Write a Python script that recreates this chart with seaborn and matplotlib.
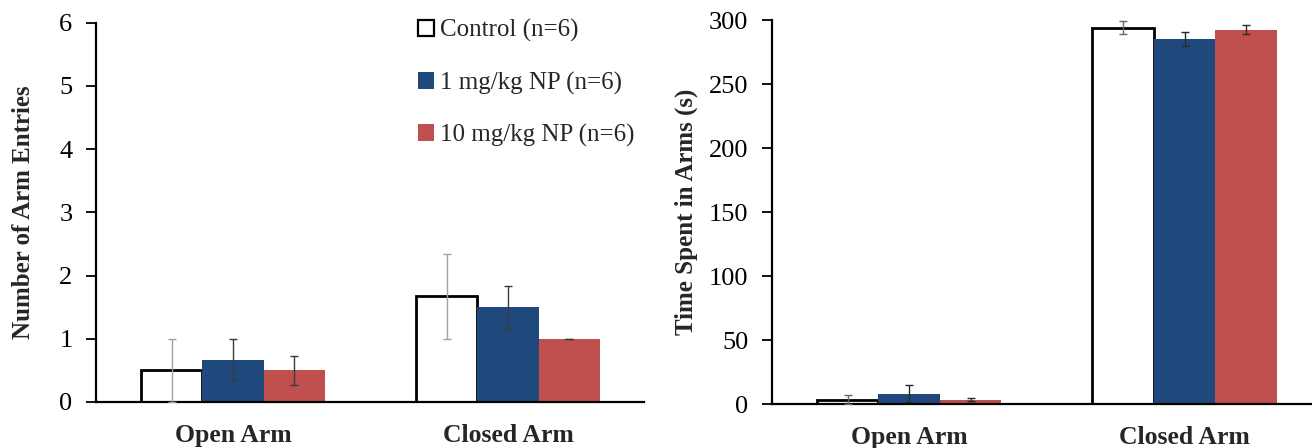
import matplotlib
matplotlib.use("Agg")
import matplotlib.pyplot as plt
import seaborn as sns
import pandas as pd
from matplotlib.patches import Patch

arms = ["Open Arm", "Closed Arm"]
groups = ["Control (n=6)", "1 mg/kg NP (n=6)", "10 mg/kg NP (n=6)"]

entries_mean = {
    "Control (n=6)": [0.5, 1.67],
    "1 mg/kg NP (n=6)": [0.67, 1.5],
    "10 mg/kg NP (n=6)": [0.5, 1.0],
}
entries_sem = {
    "Control (n=6)": [0.5, 0.67],
    "1 mg/kg NP (n=6)": [0.33, 0.34],
    "10 mg/kg NP (n=6)": [0.23, 0.0],
}
time_mean = {
    "Control (n=6)": [3.5, 294.0],
    "1 mg/kg NP (n=6)": [8.0, 285.0],
    "10 mg/kg NP (n=6)": [3.5, 292.5],
}
time_sem = {
    "Control (n=6)": [3.8, 5.0],
    "1 mg/kg NP (n=6)": [6.5, 5.5],
    "10 mg/kg NP (n=6)": [1.5, 3.5],
}

colors = {"Control (n=6)": "#FFFFFF", "1 mg/kg NP (n=6)": "#1F497D", "10 mg/kg NP (n=6)": "#C0504D"}
err_colors_left = {"Control (n=6)": "#a0a0a0", "1 mg/kg NP (n=6)": "#3a3a3a", "10 mg/kg NP (n=6)": "#3a3a3a"}
err_colors_right = {"Control (n=6)": "#6a6a6a", "1 mg/kg NP (n=6)": "#2a2a2a", "10 mg/kg NP (n=6)": "#2a2a2a"}

sns.set_theme(style="white")
plt.rcParams["font.family"] = ["Liberation Serif", "DejaVu Serif"]


def long_table(means, sems):
    rows = []
    for g in groups:
        for a, m, s in zip(arms, means[g], sems[g]):
            rows.append({"arm": a, "group": g, "value": m, "err": s})
    return pd.DataFrame(rows)


def draw(ax, means, sems, ylim, yticks, ylabel, xlim, ecols, label_x):
    df = long_table(means, sems)
    sns.barplot(data=df, x="arm", y="value", hue="group", order=arms, hue_order=groups,
                palette=colors, width=0.67, errorbar=None, ax=ax, legend=False,
                saturation=1, linewidth=0)
    # patches come out grouped by hue, each group in arm order
    for i, g in enumerate(groups):
        for j, a in enumerate(arms):
            p = ax.patches[i * len(arms) + j]
            if g == "Control (n=6)":
                p.set_edgecolor("black")
                p.set_linewidth(2.0)
            x = p.get_x() + p.get_width() / 2
            ax.errorbar(x, means[g][j], yerr=sems[g][j], fmt="none",
                        ecolor=ecols[g], elinewidth=1.0, capsize=3, capthick=1.0, zorder=5)
    ax.set_ylim(*ylim)
    ax.set_yticks(yticks)
    ax.set_xlim(*xlim)
    ax.set_xlabel("")
    ax.set_ylabel(ylabel, fontsize=18, fontweight="bold")
    ax.yaxis.set_label_coords(label_x, 0.5)
    for s in ["top", "right"]:
        ax.spines[s].set_visible(False)
    for s in ["left", "bottom"]:
        ax.spines[s].set_color("black")
        ax.spines[s].set_linewidth(1.6)
    ax.tick_params(axis="y", which="both", left=True, direction="out", length=7,
                   width=1.3, labelsize=19, pad=10, colors="black")
    ax.tick_params(axis="x", bottom=False, labelsize=18.5, pad=10)
    for lab in ax.get_xticklabels():
        lab.set_fontweight("bold")


fig = plt.figure(figsize=(13.12, 4.48), dpi=100)
ax1 = fig.add_axes([0.0732, 0.1027, 0.4177, 0.847])
ax2 = fig.add_axes([0.5884, 0.0982, 0.4116, 0.857])

draw(ax1, entries_mean, entries_sem, (0, 6), range(0, 7), "Number of Arm Entries",
     (-0.498, 1.495), err_colors_left, -0.112)
draw(ax2, time_mean, time_sem, (0, 300), range(0, 301, 50), "Time Spent in Arms (s)",
     (-0.498, 1.462), err_colors_right, -0.137)

handles = [Patch(facecolor=colors[g], edgecolor="black" if g == "Control (n=6)" else colors[g],
                 linewidth=1.6 if g == "Control (n=6)" else 0) for g in groups]
ax1.legend(handles, groups, loc="upper left", bbox_to_anchor=(0.569, 1.035), frameon=False,
           fontsize=18, handlelength=0.65, handleheight=0.65, handletextpad=0.25,
           labelspacing=1.17, borderaxespad=0)

fig.savefig("out.png", dpi=100, facecolor="white")
